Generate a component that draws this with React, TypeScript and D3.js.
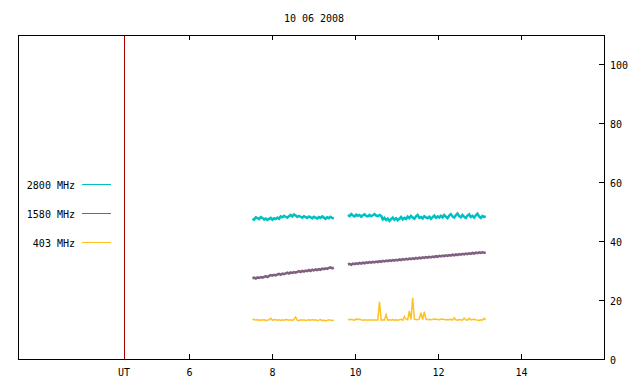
import React, { useEffect, useRef } from "react";
import * as d3 from "d3";

// time sampling of the two observing segments (hours UT)
const seg1Start = 7.53;
const seg2Start = 9.83;
const stepHours = 0.04;

const xTicks = [6, 8, 10, 12, 14];
const yTicks = [0, 20, 40, 60, 80, 100];
const utLine = 4.43;

const freq2800a = [
  47.6, 47.3, 48.1, 47.8, 47.5, 48.2, 47.9, 47.4, 47.7, 47.2,
  47.6, 47.9, 47.3, 47.8, 47.5, 48.0, 47.6, 48.4, 48.1, 48.6,
  48.3, 48.0, 48.5, 48.9, 48.4, 49.1, 48.7, 48.2, 48.6, 48.3,
  48.0, 48.5, 48.2, 47.9, 48.4, 48.1, 47.8, 48.3, 48.0, 47.7,
  48.2, 47.9, 48.4, 48.0, 47.6, 48.1, 47.8, 48.3, 47.9, 47.7,
];
const freq2800b = [
  48.9, 48.5, 49.2, 48.7, 48.4, 49.0, 48.6, 48.9, 48.3, 48.8,
  49.1, 48.6, 48.4, 48.9, 48.5, 48.8, 49.2, 48.7, 48.5, 48.9,
  48.6,
  47.4, 47.9, 47.2, 47.7, 46.9, 47.5, 48.0, 47.3, 47.8, 47.1,
  47.6, 48.2, 47.4, 47.9, 47.5,
  48.3, 47.8, 48.6, 48.0, 47.6, 48.4, 48.9, 47.9, 48.2, 47.7,
  48.5, 48.1, 47.8, 48.3, 47.6, 48.2, 48.7, 47.9, 48.4, 48.0,
  48.6, 48.1, 48.9, 48.3, 47.8, 48.7, 49.2, 48.4, 48.0, 48.8,
  49.4, 48.5, 48.1, 48.9, 48.3, 47.9, 48.7, 49.1, 48.2, 48.6,
  48.0, 48.8, 49.3, 48.4, 47.9, 48.6, 48.2, 48.5,
];

const freq1580a = [
  27.4, 27.6, 27.3, 27.7, 27.5, 27.8, 27.6, 27.9, 28.1, 27.8,
  28.2, 28.5, 28.3, 28.6, 28.4, 28.7, 28.9, 28.6, 29.0, 28.8,
  29.1, 29.3, 29.0, 29.4, 29.2, 29.5, 29.3, 29.6, 29.8, 29.5,
  29.9, 29.7, 30.0, 29.8, 30.2, 29.9, 30.3, 30.1, 30.4, 30.2,
  30.5, 30.3, 30.7, 30.5, 30.8, 30.6, 30.9, 31.1, 30.8, 31.0,
];
const freq1580b = [
  32.1, 32.3, 32.0, 32.4, 32.2, 32.5, 32.3, 32.6, 32.4, 32.7,
  32.5, 32.8, 32.6, 32.9, 32.7, 33.0, 32.8, 33.1, 32.9, 33.2,
  33.0, 33.3, 33.1, 33.4, 33.2, 33.5, 33.3, 33.6, 33.4, 33.7,
  33.5, 33.8, 33.6, 33.9, 33.7, 34.0, 33.8, 34.1, 33.9, 34.2,
  34.0, 34.3, 34.1, 34.4, 34.2, 34.5, 34.3, 34.6, 34.4, 34.7,
  34.5, 34.8, 34.6, 34.9, 34.7, 35.0, 34.8, 35.1, 34.9, 35.2,
  35.0, 35.3, 35.1, 35.4, 35.2, 35.5, 35.3, 35.6, 35.4, 35.7,
  35.5, 35.8, 35.6, 35.9, 35.7, 36.0, 35.8, 36.1, 35.9, 36.2,
  36.0, 36.2, 36.1, 36.1,
];

const freq403a = [
  13.3, 13.5, 13.2, 13.4, 13.1, 13.3, 13.2, 13.4, 13.0, 13.2,
  13.3, 13.8, 13.2, 13.3, 13.4, 13.2, 13.3, 13.1, 13.3, 13.2,
  13.4, 13.3, 13.2, 13.3, 13.1, 13.4, 14.2, 13.2, 13.0, 13.3,
  13.2, 13.3, 13.1, 13.2, 13.3, 13.2, 13.4, 13.2, 13.3, 13.1,
  13.2, 13.4, 13.0, 13.2, 12.9, 13.1, 13.3, 13.2, 13.1, 13.2,
];
const freq403b = [
  13.4, 13.3, 13.5, 13.3, 13.2, 13.6, 13.4, 13.5, 13.3, 13.2,
  13.3, 13.2, 13.2, 13.3, 13.2, 13.2, 13.3, 13.2, 13.2, 19.4,
  13.2, 13.3, 13.2, 15.0, 13.2, 13.3, 13.2, 13.4, 13.2, 13.3,
  13.2, 13.3, 13.5, 13.2, 14.4, 13.5, 13.3, 16.3, 13.4, 20.8,
  13.5, 13.4, 13.3, 13.6, 15.7, 13.4, 16.1, 13.5, 13.3, 13.5,
  13.3, 13.4, 13.6, 13.5, 13.4, 13.3, 13.5, 13.6, 13.4, 13.3,
  13.4, 13.3, 13.5, 13.2, 14.0, 13.3, 13.2, 13.4, 13.3, 13.2,
  13.9, 13.3, 13.2, 13.8, 13.3, 13.4, 13.5, 13.3, 13.2, 13.1,
  13.3, 13.2, 13.8, 13.3,
];

const series = [
  { name: "2800 MHz", color: "#00c0c0", width: 2.5, segs: [freq2800a, freq2800b] },
  { name: "1580 MHz", color: "#806080", width: 2.5, segs: [freq1580a, freq1580b] },
  { name: "403 MHz", color: "#ffc020", width: 1.5, segs: [freq403a, freq403b] },
];

export default function App() {
  const ref = useRef<SVGSVGElement>(null);

  useEffect(() => {
    const svg = d3.select(ref.current);
    svg.selectAll("*").remove();

    const left = 18, right = 604, top = 35, bottom = 359;
    const font = "'DejaVu Sans Mono', monospace";

    const x = d3.scaleLinear().domain([1.88, 16]).range([left, right]);
    const y = d3.scaleLinear().domain([0, 110]).range([bottom, top]);

    // title
    svg.append("text")
      .attr("x", 314)
      .attr("y", 22)
      .attr("text-anchor", "middle")
      .attr("font-family", font)
      .attr("font-size", 10)
      .text("10 06 2008");

    // data
    const line = d3.line<[number, number]>()
      .x(d => x(d[0]))
      .y(d => y(d[1]));

    series.forEach(s => {
      s.segs.forEach((vals, k) => {
        const t0 = k === 0 ? seg1Start : seg2Start;
        const pts: [number, number][] = vals.map((v, i) => [t0 + i * stepHours, v]);
        svg.append("path")
          .attr("d", line(pts))
          .attr("fill", "none")
          .attr("stroke", s.color)
          .attr("stroke-width", s.width)
          .attr("stroke-linejoin", "miter");
      });
    });

    // UT marker
    svg.append("line")
      .attr("x1", Math.round(x(utLine)) + 0.5)
      .attr("x2", Math.round(x(utLine)) + 0.5)
      .attr("y1", top)
      .attr("y2", bottom)
      .attr("stroke", "#a00000")
      .attr("stroke-width", 1);

    // frame
    svg.append("rect")
      .attr("x", left + 0.5)
      .attr("y", top + 0.5)
      .attr("width", right - left)
      .attr("height", bottom - top)
      .attr("fill", "none")
      .attr("stroke", "#000")
      .attr("stroke-width", 1);

    // x ticks, bottom and top mirrored
    xTicks.forEach(t => {
      const px = Math.round(x(t)) + 0.5;
      svg.append("line").attr("x1", px).attr("x2", px)
        .attr("y1", bottom).attr("y2", bottom - 5).attr("stroke", "#000");
      svg.append("line").attr("x1", px).attr("x2", px)
        .attr("y1", top).attr("y2", top + 5).attr("stroke", "#000");
      svg.append("text")
        .attr("x", px)
        .attr("y", 376)
        .attr("text-anchor", "middle")
        .attr("font-family", font)
        .attr("font-size", 10)
        .text(t);
    });
    svg.append("text")
      .attr("x", Math.round(x(utLine)))
      .attr("y", 376)
      .attr("text-anchor", "middle")
      .attr("font-family", font)
      .attr("font-size", 10)
      .text("UT");

    // right y axis
    yTicks.forEach(t => {
      const py = Math.round(y(t)) + 0.5;
      if (t > 0) {
        svg.append("line").attr("x1", right).attr("x2", right - 5)
          .attr("y1", py).attr("y2", py).attr("stroke", "#000");
      }
      svg.append("text")
        .attr("x", 610)
        .attr("y", py + 4)
        .attr("font-family", font)
        .attr("font-size", 10)
        .text(t);
    });

    // legend
    series.forEach((s, i) => {
      const ly = 184.5 + i * 29;
      svg.append("text")
        .attr("x", 75)
        .attr("y", ly + 4)
        .attr("text-anchor", "end")
        .attr("font-family", font)
        .attr("font-size", 10)
        .text(s.name);
      svg.append("line")
        .attr("x1", 82).attr("x2", 111)
        .attr("y1", ly).attr("y2", ly)
        .attr("stroke", s.color);
    });
  }, []);

  return (
    <div style={{ position: "fixed", left: 0, top: 0, width: 640, height: 384, background: "#fff" }}>
      <svg ref={ref} width={640} height={384} />
    </div>
  );
}
